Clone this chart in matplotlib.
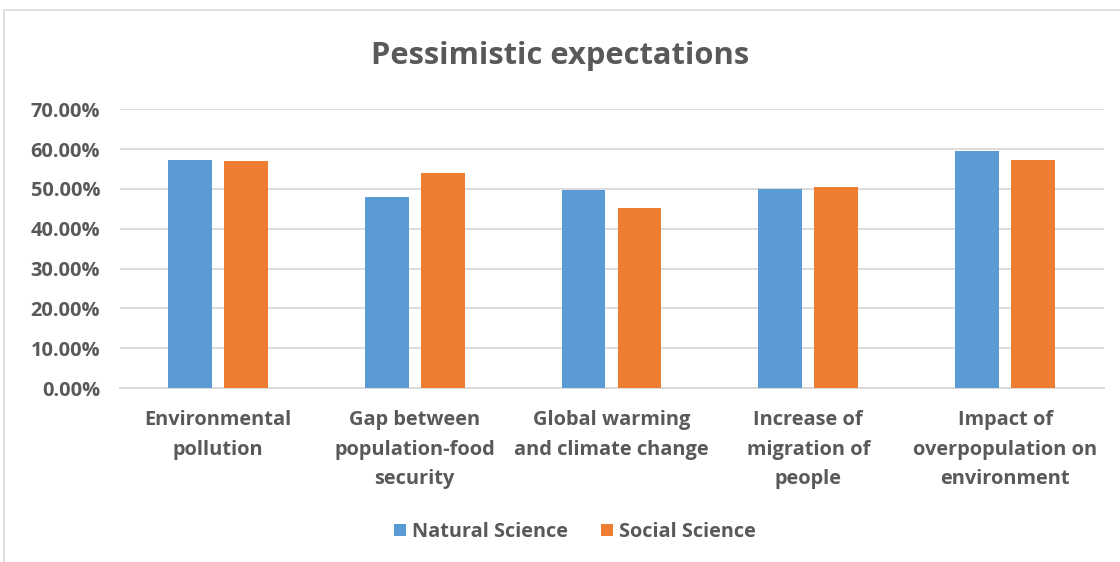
import matplotlib
matplotlib.use("Agg")
import matplotlib.pyplot as plt
from matplotlib.patches import Rectangle
import numpy as np

categories = [
    "Environmental\npollution",
    "Gap between\npopulation-food\nsecurity",
    "Global warming\nand climate change",
    "Increase of\nmigration of\npeople",
    "Impact of\noverpopulation on\nenvironment",
]
natural_science = [57.2, 47.9, 49.8, 49.9, 59.6]
social_science = [56.9, 53.9, 45.3, 50.4, 57.2]
series_names = ["Natural Science", "Social Science"]
yticks = [0, 10, 20, 30, 40, 50, 60, 70]

blue = "#5B9BD5"
orange = "#ED7D31"
text_color = "#595959"
grid_color = "#D9D9D9"

plt.rcParams["font.family"] = ["Open Sans", "DejaVu Sans"]
plt.rcParams["font.weight"] = "bold"

fig = plt.figure(figsize=(11.2, 5.62), dpi=100)
fig.patch.set_facecolor("white")

# chart frame
fig.add_artist(Rectangle((4 / 1120, -0.1), 1.2, 1 - 10 / 562 + 0.1,
                         transform=fig.transFigure, fill=False,
                         edgecolor="#D9D9D9", linewidth=1.2))

left, right = 119.5 / 1120, 1103.5 / 1120
bottom, top = 1 - 388 / 562, 1 - 109.3 / 562
ax = fig.add_axes([left, bottom, right - left, top - bottom])

x = np.arange(len(categories))
w = 0.223
off = 0.142
ax.bar(x - off, natural_science, w, color=blue, label=series_names[0], zorder=3)
ax.bar(x + off, social_science, w, color=orange, label=series_names[1], zorder=3)

ax.set_xlim(-0.5, len(categories) - 0.5)
ax.set_ylim(0, 70)
ax.set_yticks(yticks)
ax.set_yticklabels([f"{v:.2f}%" for v in yticks], fontsize=14.4,
                   color=text_color, fontweight="bold")
ax.yaxis.grid(True, color=grid_color, linewidth=1.3, zorder=0)
ax.tick_params(axis="y", length=0, pad=14)
ax.tick_params(axis="x", length=0, pad=16)
ax.set_xticks(x)
ax.set_xticklabels(categories, fontsize=14.4, color=text_color,
                   fontweight="bold", linespacing=1.62)
for s in ["top", "right", "left"]:
    ax.spines[s].set_visible(False)
ax.spines["bottom"].set_color(grid_color)
ax.spines["bottom"].set_linewidth(1.3)

fig.text(0.5, 1 - 56 / 562, "Pessimistic expectations", ha="center", va="center",
         fontsize=22.2, color=text_color, fontweight="bold")

fig.legend(loc="center", bbox_to_anchor=(575 / 1120, 1 - 532 / 562), ncol=2,
           frameon=False, fontsize=14.3, labelcolor=text_color,
           handlelength=0.6, handleheight=0.6, handletextpad=0.3,
           columnspacing=1.7)

fig.savefig("out.png", dpi=100, facecolor="white")
